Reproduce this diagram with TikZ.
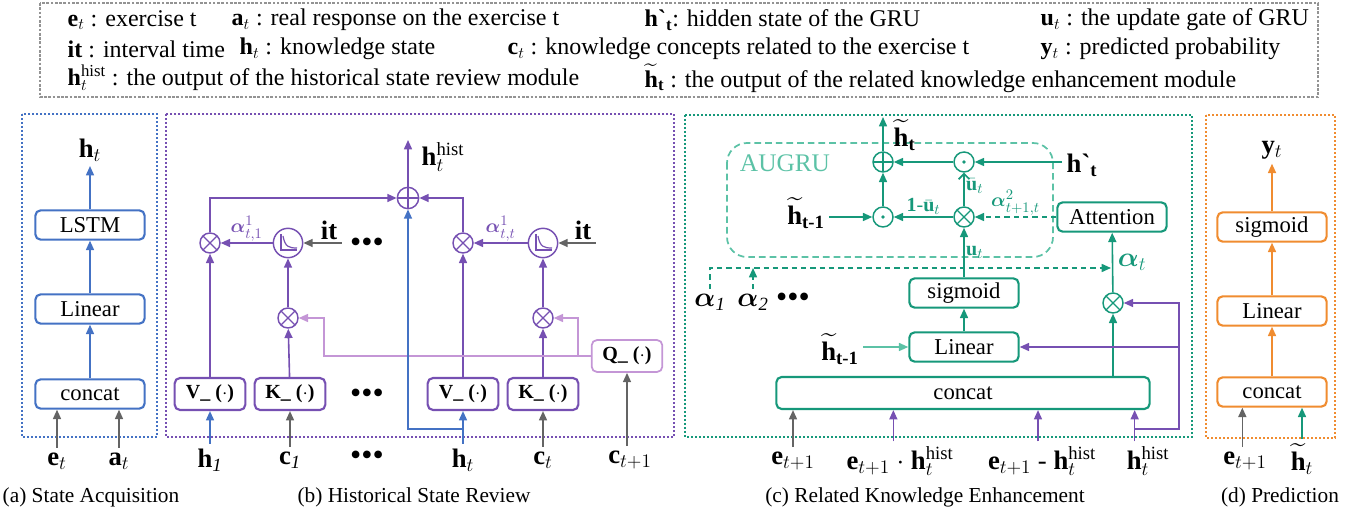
\documentclass[tikz,border=0pt]{standalone}
\usepackage{amsmath}
\usepackage{fontspec}
\setmainfont{Liberation Serif}
\usetikzlibrary{arrows.meta,positioning}

\definecolor{sablue}{RGB}{68,114,196}
\definecolor{hspurple}{RGB}{118,80,178}
\definecolor{hspink}{RGB}{196,150,214}
\definecolor{rketeal}{RGB}{22,152,122}
\definecolor{rkelight}{RGB}{92,194,166}
\definecolor{prorange}{RGB}{240,140,48}
\definecolor{ingray}{RGB}{100,100,100}

\newcommand{\decay}[1]{%
  \draw[hspurple,line width=0.9pt] ([shift={(-7,-9)}]#1.center) -- ([shift={(-7,7)}]#1.center) -- ([shift={(9,7)}]#1.center);
  \draw[hspurple,line width=0.9pt] ([shift={(-5,-7)}]#1.center) .. controls ([shift={(-3,4)}]#1.center) and ([shift={(1,5)}]#1.center) .. ([shift={(9,5)}]#1.center);}

\begin{document}
\begin{tikzpicture}[x=0.75pt,y=-0.75pt,
  every node/.style={font=\fontsize{17}{20}\selectfont},
  lgd/.style={anchor=west,font=\fontsize{18}{20}\selectfont},
  lbl/.style={font=\fontsize{20}{22}\selectfont},
  sml/.style={font=\fontsize{15}{17}\selectfont},
  dots/.style={font=\fontsize{24}{26}\selectfont},
  captxt/.style={font=\fontsize{16}{18}\selectfont},
  blk/.style={draw=#1,rounded corners=4pt,line width=1.6pt,fill=white,minimum width=82pt,minimum height=22pt,inner sep=0pt},
  vk/.style={blk=#1,minimum width=53pt,minimum height=24pt,font=\bfseries\fontsize{15}{17}\selectfont},
  op/.style={circle,draw,color=#1,fill=white,line width=1.1pt,minimum size=15pt,inner sep=0pt},
  mul/.style={op=#1,path picture={\draw[line width=0.9pt] (path picture bounding box.north west) -- (path picture bounding box.south east) (path picture bounding box.north east) -- (path picture bounding box.south west);}},
  add/.style={op=#1,path picture={\draw[line width=0.9pt] (path picture bounding box.north) -- (path picture bounding box.south) (path picture bounding box.west) -- (path picture bounding box.east);}},
  dotp/.style={op=#1,path picture={\fill[#1] (path picture bounding box.center) circle (1.4pt);}},
  ar/.style={line width=1.2pt,-{Triangle[length=7pt,width=6pt]}},
  dsh/.style={dash pattern=on 4pt off 3pt},
  panel/.style={line width=1.6pt,dash pattern=on 1.4pt off 1.6pt}]

\useasboundingbox (0,0) rectangle (1353,516);

\draw[ingray!70,line width=0.8pt,dash pattern=on 2pt off 1.2pt] (40,3) rectangle (1318,97);
\node[lgd] (lgE) at (63,20) {$\mathbf{e}_t$ : exercise t};
\node[lgd] (lgA) at (227,20) {$\mathbf{a}_t$ : real response on the exercise t};
\node[lgd] (lgHp) at (640,20) {\textbf{h\textasciigrave}\textsubscript{\textbf{t}}: hidden state of the GRU};
\node[lgd] (lgU) at (1036,20) {$\mathbf{u}_t$ : the update gate of GRU};
\node[lgd] (lgIt) at (63,49) {\textbf{it} : interval time};
\node[lgd] (lgH) at (235,49) {$\mathbf{h}_t$ : knowledge state};
\node[lgd] (lgC) at (503,49) {$\mathbf{c}_t$ : knowledge concepts related to the exercise t};
\node[lgd] (lgY) at (1036,49) {$\mathbf{y}_t$ : predicted probability};
\node[lgd] (lgHist) at (63,78) {$\mathbf{h}_t^{\text{hist}}$ : the output of the historical state review module};
\node[lgd] (lgHt) at (640,78) {$\widetilde{\mathbf{h}}_{\mathbf{t}}$ : the output of the related knowledge enhancement module};

\draw[panel,sablue] (22,114) rectangle (157,437);
\draw[panel,hspurple] (166,114) rectangle (674,437);
\draw[panel,rketeal] (685,115) rectangle (1192,437);
\draw[panel,prorange] (1206,115) rectangle (1335,438);

\node[blk=sablue] (saLSTM) at (90,225) {LSTM};
\node[blk=sablue] (saLin) at (90,309) {Linear};
\node[blk=sablue] (saCat) at (90,394) {concat};
\node[lbl] (saH) at (90,150) {$\mathbf{h}_t$};
\node[lbl] (saE) at (57,461) {$\mathbf{e}_t$};
\node[lbl] (saA) at (119,461) {$\mathbf{a}_t$};
\draw[ar,sablue] (saCat) -- (saLin);
\draw[ar,sablue] (saLin) -- (saLSTM);
\draw[ar,sablue] (saLSTM) -- (saH);
\draw[ar,ingray] (saE) -- (saE |- saCat.south);
\draw[ar,ingray] (saA) -- (saA |- saCat.south);

\node[vk=hspurple] (hsV1) at (210,394) {V\_\ ($\cdot$)};
\node[vk=hspurple] (hsK1) at (290,394) {K\_\ ($\cdot$)};
\node[vk=hspurple] (hsVt) at (463,394) {V\_\ ($\cdot$)};
\node[vk=hspurple] (hsKt) at (543,394) {K\_\ ($\cdot$)};
\node[vk=hspink,line width=1.3pt] (hsQ) at (627,356) {Q\_\ ($\cdot$)};
\node[dots] (hsDotsA) at (367,245) {\textbullet\textbullet\textbullet};
\node[dots] (hsDotsB) at (367,396) {\textbullet\textbullet\textbullet};
\node[mul=hspurple] (hsM1) at (210,243) {};
\node[op=hspurple,minimum size=22pt] (hsD1) at (288,243) {};
\node[mul=hspurple] (hsQ1) at (288,318) {};
\node[mul=hspurple] (hsMt) at (463,243) {};
\node[op=hspurple,minimum size=22pt] (hsDt) at (543,243) {};
\node[mul=hspurple] (hsQt) at (543,318) {};
\node[add=hspurple,minimum size=16pt] (hsSum) at (408,198) {};
\decay{hsD1}
\decay{hsDt}
\node[lbl,anchor=west] (hsHist) at (417,157) {$\mathbf{h}_t^{\text{hist}}$};
\coordinate (hsOut) at (408,140);
\node[lbl] (hsIt1) at (329,230) {\textbf{it}};
\node[lbl] (hsItt) at (583,230) {\textbf{it}};
\draw[ar,hspurple] (hsSum) -- (hsOut);
\draw[ar,ingray] (hsIt1.east |- hsD1) -- (hsD1);
\draw[ar,ingray] (hsItt.east |- hsDt) -- (hsDt);
\draw[ar,hspurple] (hsV1) -- (hsM1);
\draw[ar,hspurple] (hsK1) -- (hsQ1);
\draw[ar,hspurple] (hsQ1) -- (hsD1);
\draw[ar,hspurple] (hsD1) -- node[above,sml,inner sep=1pt] {$\boldsymbol{\alpha}^1_{t,1}$} (hsM1);
\draw[ar,hspurple] (hsM1) |- (hsSum);
\draw[ar,hspurple] (hsVt) -- (hsMt);
\draw[ar,hspurple] (hsKt) -- (hsQt);
\draw[ar,hspurple] (hsQt) -- (hsDt);
\draw[ar,hspurple] (hsDt) -- node[above,sml,inner sep=1pt] {$\boldsymbol{\alpha}^1_{t,t}$} (hsMt);
\draw[ar,hspurple] (hsMt) |- (hsSum);
\path ([xshift=19pt]hsQ1.east) coordinate (hsQy);
\path ([xshift=18pt]hsQt.east) coordinate (hsQx);
\draw[ar,hspink] (hsQ) -| (hsQy) -- (hsQ1);
\draw[ar,hspink] (hsQx |- hsQ.west) |- (hsQt);

\node[lbl] (hsH1) at (210,460) {$\mathbf{h}_{\mathit{1}}$};
\node[lbl] (hsC1) at (290,460) {$\mathbf{c}_{\mathit{1}}$};
\node[dots] (hsDotsC) at (367,458) {\textbullet\textbullet\textbullet};
\node[lbl] (hsHt) at (463,460) {$\mathbf{h}_t$};
\node[lbl] (hsCt) at (543,460) {$\mathbf{c}_t$};
\node[lbl] (hsCn) at (630,460) {$\mathbf{c}_{t+1}$};
\coordinate (hsJ) at (463,429);
\draw[ar,sablue] (hsH1) -- (hsH1 |- hsV1.south);
\draw[ar,ingray] (hsC1) -- (hsC1 |- hsK1.south);
\draw[ar,sablue] (hsHt) -- (hsHt |- hsVt.south);
\draw[ar,sablue] (hsJ) -| (hsSum);
\draw[ar,ingray] (hsCt) -- (hsCt |- hsKt.south);
\draw[ar,ingray] (hsQ |- hsCn.north) -- (hsQ.south);

\draw[rkelight,line width=1.3pt,dash pattern=on 5pt off 3pt,rounded corners=15pt] (727,143) rectangle (1053,257);
\node[text=rkelight,font=\fontsize{19}{21}\selectfont] (rkAug) at (785,163) {AUGRU};
\node[add=rketeal] (rkSum) at (883,162) {};
\node[dotp=rketeal] (rkDt) at (964,162) {};
\node[dotp=rketeal] (rkDb) at (883,217) {};
\node[mul=rketeal] (rkMu) at (964,217) {};
\node[mul=rketeal] (rkAm) at (1113,303) {};
\node[blk=rketeal] (rkAtt) at (1112,217) {Attention};
\node[blk=rketeal] (rkSig) at (964,293) {sigmoid};
\node[blk=rketeal] (rkLin) at (964,347) {Linear};
\node[blk=rketeal,minimum width=280pt,minimum height=24pt] (rkCat) at (963,393) {concat};
\node[lbl,anchor=west] (rkHt) at (889,135) {$\widetilde{\mathbf{h}}_{\mathbf{t}}$};
\coordinate (rkOut) at (883,117);
\node[lbl] (rkHp) at (1082,165) {\textbf{h\textasciigrave}\textsubscript{\textbf{t}}};
\node[lbl] (rkHa) at (806,213) {$\widetilde{\mathbf{h}}_{\text{\textbf{t-1}}}$};
\node[lbl] (rkHb) at (840,349) {$\widetilde{\mathbf{h}}_{\text{\textbf{t-1}}}$};
\node[lbl] (rkA1) at (710,302) {$\boldsymbol{\alpha}_{\mathit{1}}$};
\node[lbl] (rkA2) at (753,302) {$\boldsymbol{\alpha}_{\mathit{2}}$};
\node[dots] (rkDots) at (793,300) {\textbullet\textbullet\textbullet};
\coordinate (rkJ) at (1111,268);
\draw[ar,rketeal] (rkDb) -- (rkSum);
\draw[ar,rketeal] (rkDt) -- (rkSum);
\draw[ar,rketeal] (rkSum) -- (rkOut);
\draw[ar,rketeal] (rkHp.west |- rkDt) -- (rkDt);
\draw[ar,rketeal] (rkHa.east |- rkDb) -- (rkDb);
\draw[ar,rketeal] (rkMu) -- node[above,sml,inner sep=1pt] {$\mathbf{1}$-$\bar{\mathbf{u}}_t$} (rkDb);
\draw[rketeal,line width=1.2pt,-{Straight Barb[length=4pt,width=8pt]}] (rkMu) -- node[right,sml,inner sep=1pt,pos=0.6] {$\bar{\mathbf{u}}_t$} (rkDt);
\draw[ar,rketeal] (rkSig) -- node[right,sml,inner sep=1pt] {$\mathbf{u}_t$} (rkMu);
\draw[ar,rketeal,dsh] (rkAtt) -- node[above,sml,inner sep=1pt] {$\boldsymbol{\alpha}^2_{t+1,t}$} (rkMu);
\draw[ar,rketeal] (rkAm) -- node[right,lbl] {$\boldsymbol{\alpha}_t$} (rkAtt);
\draw[ar,rketeal] (rkLin) -- (rkSig);
\draw[ar,rkelight] (rkHb.east |- rkLin) -- (rkLin);
\draw[ar,rketeal] (rkAm |- rkCat.north) -- (rkAm);
\draw[ar,rketeal,dsh] (rkA1) |- (rkJ);
\draw[ar,rketeal,dsh] (rkA2) -- (rkA2 |- rkJ);

\node[lbl] (rkE1) at (793,461) {$\mathbf{e}_{t+1}$};
\node[lbl] (rkE2) at (900,461) {$\mathbf{e}_{t+1}$ $\cdot$ $\mathbf{h}_t^{\text{hist}}$};
\node[lbl] (rkE3) at (1042,461) {$\mathbf{e}_{t+1}$ - $\mathbf{h}_t^{\text{hist}}$};
\node[lbl] (rkE4) at (1148,461) {$\mathbf{h}_t^{\text{hist}}$};
\path ([xshift=-5pt]rkE2.north) coordinate (rkE2t);
\path ([xshift=-3pt]rkE3.north) coordinate (rkE3t);
\path ([xshift=-10pt]rkE4.north) coordinate (rkE4t);
\coordinate (rkPr) at (1179,429);
\draw[ar,ingray] (rkE1) -- (rkE1 |- rkCat.south);
\draw[ar,hspurple] (rkE2t) -- (rkE2t |- rkCat.south);
\draw[ar,hspurple] (rkE3t) -- (rkE3t |- rkCat.south);
\draw[ar,hspurple] (rkE4t) -- (rkE4t |- rkCat.south);
\draw[ar,hspurple] (rkPr -| rkE4t) -- (rkPr) |- (rkAm);
\draw[ar,hspurple] (rkPr |- rkLin) -- (rkLin);

\node[blk=prorange] (prSig) at (1272,227) {sigmoid};
\node[blk=prorange] (prLin) at (1272,311) {Linear};
\node[blk=prorange] (prCat) at (1272,392) {concat};
\node[lbl] (prY) at (1272,150) {$\mathbf{y}_t$};
\node[lbl] (prE) at (1245,461) {$\mathbf{e}_{t+1}$};
\node[lbl] (prH) at (1302,459) {$\widetilde{\mathbf{h}}_t$};
\path ([xshift=-2pt]prE.north) coordinate (prEt);
\draw[ar,prorange] (prCat) -- (prLin);
\draw[ar,prorange] (prLin) -- (prSig);
\draw[ar,prorange] (prSig) -- (prY);
\draw[ar,ingray] (prEt) -- (prEt |- prCat.south);
\draw[ar,rketeal] (prH) -- (prH |- prCat.south);

\node[captxt] (capA) at (91,497) {(a) State Acquisition};
\node[captxt] (capB) at (414,497) {(b) Historical State Review};
\node[captxt] (capC) at (925,497) {(c) Related Knowledge Enhancement};
\node[captxt] (capD) at (1280,497) {(d) Prediction};
\end{tikzpicture}
\end{document}
